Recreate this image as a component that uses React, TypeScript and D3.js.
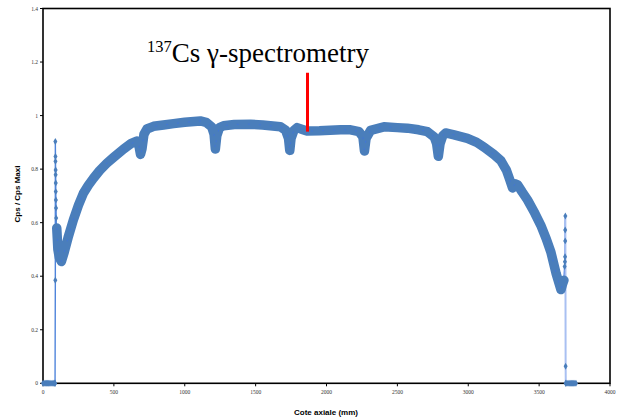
import React from "react";
import * as d3 from "d3";

// ---- data ----
const xTicks = [0, 500, 1000, 1500, 2000, 2500, 3000, 3500, 4000];
const yTicks = [0, 0.2, 0.4, 0.6, 0.8, 1, 1.2, 1.4];
const yTickLabels = ["0", "0.2", "0.4", "0.6", "0.8", "1", "1.2", "1.4"];

// zero readings before the rod
const leftZeroX = [0, 8, 16, 24, 32, 40, 48, 56, 64, 72, 80, 85];
// left end spike (mm, value)
const leftSpikeX = [85, 87, 87, 88, 88, 89, 89, 90, 90, 91, 92, 93, 94, 96];
const leftSpikeY = [0, 0.385, 0.903, 0.847, 0.829, 0.797, 0.779, 0.748, 0.716, 0.685, 0.655, 0.617, 0.585, 0.57];

// main band (axial profile), mm and Cps/Cps max
const bandX = [97, 105, 115, 130, 150, 180, 214, 250, 285, 320, 356, 400, 450, 500, 568, 620, 662, 676, 688, 698, 712, 733,
  780, 850, 921, 1000, 1110, 1150, 1190, 1207, 1216, 1226, 1245, 1274, 1350, 1463, 1550, 1675, 1712, 1732, 1741, 1750,
  1770, 1793, 1830, 1863, 1950, 2100, 2170, 2230, 2257, 2268, 2279, 2311, 2405, 2500, 2570, 2650, 2712, 2760, 2777,
  2789, 2801, 2820, 2841, 2900, 2994, 3060, 3112, 3180, 3230, 3270, 3290, 3312, 3330, 3348, 3380, 3418, 3470, 3512,
  3550, 3583, 3620, 3654, 3665, 3675];
const bandY = [0.58, 0.5, 0.47, 0.455, 0.49, 0.55, 0.61, 0.665, 0.71, 0.74, 0.766, 0.795, 0.822, 0.845, 0.875, 0.895, 0.905, 0.89, 0.855, 0.875, 0.93, 0.95,
  0.96, 0.965, 0.97, 0.975, 0.98, 0.975, 0.958, 0.93, 0.875, 0.925, 0.955, 0.962, 0.967, 0.968, 0.965, 0.958, 0.945, 0.915, 0.87, 0.915,
  0.945, 0.955, 0.948, 0.942, 0.943, 0.947, 0.947, 0.94, 0.92, 0.868, 0.915, 0.945, 0.958, 0.955, 0.953, 0.947, 0.94, 0.92, 0.895,
  0.848, 0.895, 0.925, 0.935, 0.928, 0.915, 0.9, 0.882, 0.855, 0.832, 0.795, 0.765, 0.73, 0.745, 0.742, 0.715, 0.685, 0.635, 0.59,
  0.54, 0.49, 0.41, 0.35, 0.37, 0.385];

// right end spike
const rightSpikeX = [3675, 3680, 3682, 3683, 3684, 3684, 3685, 3687, 3688];
const rightSpikeY = [0.385, 0.436, 0.454, 0.473, 0.532, 0.573, 0.625, 0.064, 0];
const rightZeroX = [3688, 3696, 3704, 3712, 3720, 3728, 3736, 3744, 3752, 3760];

// annotation marker
const markX = 1866;
const markTop = 1.16;
const markBottom = 0.94;

const W = 617;
const H = 419;
const BLUE = "#4a7ebb";

export default function App() {
  const x = d3.scaleLinear().domain([0, 4000]).range([43, 610]);
  const y = d3.scaleLinear().domain([0, 1.4]).range([383.3, 8.5]);
  const line = d3
    .line<[number, number]>()
    .x((d) => x(d[0]))
    .y((d) => y(d[1]));

  const band: [number, number][] = bandX.map((v, i) => [v, bandY[i]]);
  const lSpike: [number, number][] = leftSpikeX.map((v, i) => [v, leftSpikeY[i]]);
  const rSpike: [number, number][] = rightSpikeX.map((v, i) => [v, rightSpikeY[i]]);
  const lZero: [number, number][] = leftZeroX.map((v) => [v, 0]);
  const rZero: [number, number][] = rightZeroX.map((v) => [v, 0]);
  const diamond = d3.symbol().type(d3.symbolDiamond).size(14)();

  const x0 = x.range()[0];
  const x1 = x.range()[1];
  const yTop = y(1.4);
  const yBot = y(0);

  return (
    <svg
      width={W}
      height={H}
      style={{ position: "absolute", left: 0, top: 0, background: "#fff" }}
    >
      <rect width={W} height={H} fill="#fff" />
      {/* plot frame */}
      <rect x={x0} y={yTop} width={x1 - x0} height={yBot - yTop} fill="none" stroke="#000" strokeWidth={1.6} />

      {/* y ticks */}
      {yTicks.map((t, i) => (
        <g key={"y" + i}>
          <line x1={x0 - 3} x2={x0} y1={y(t)} y2={y(t)} stroke="#000" strokeWidth={1} />
          <text
            x={x0 - 5}
            y={y(t) + 2}
            fontSize={5.5}
            fontFamily="Liberation Serif, serif"
            textAnchor="end"
            fill="#333"
          >
            {yTickLabels[i]}
          </text>
        </g>
      ))}
      {/* x ticks */}
      {xTicks.map((t, i) => (
        <g key={"x" + i}>
          <line x1={x(t)} x2={x(t)} y1={yBot} y2={yBot + 3} stroke="#000" strokeWidth={1} />
          <text
            x={x(t)}
            y={yBot + 10.5}
            fontSize={5.5}
            fontFamily="Liberation Serif, serif"
            textAnchor="middle"
            fill="#333"
          >
            {t}
          </text>
        </g>
      ))}

      {/* axis titles */}
      <text
        x={326}
        y={415}
        fontSize={8}
        fontWeight="bold"
        fontFamily="Liberation Sans, Arial, sans-serif"
        textAnchor="middle"
      >
        Cote axiale (mm)
      </text>
      <text
        transform="translate(20,194) rotate(-90)"
        fontSize={8}
        fontWeight="bold"
        fontFamily="Liberation Sans, Arial, sans-serif"
        textAnchor="middle"
      >
        Cps / Cps Maxi
      </text>

      {/* data */}
      <path d={line(lZero) || ""} fill="none" stroke={BLUE} strokeWidth={4} />
      <path d={line(rZero) || ""} fill="none" stroke={BLUE} strokeWidth={4} />
      <path d={line(lSpike) || ""} fill="none" stroke="#4f84db" strokeWidth={1.4} />
      <path d={line(rSpike.slice(0, 7)) || ""} fill="none" stroke="#3f74e0" strokeWidth={1.4} />
      <path d={line(rSpike.slice(6)) || ""} fill="none" stroke="#a9c0f2" strokeWidth={2} />
      {[...lZero, ...lSpike, ...rSpike, ...rZero].map((d, i) => (
        <path key={"m" + i} d={diamond || ""} transform={`translate(${x(d[0])},${y(d[1])})`} fill={BLUE} />
      ))}
      <path
        d={line(band) || ""}
        fill="none"
        stroke={BLUE}
        strokeWidth={9.5}
        strokeLinejoin="round"
        strokeLinecap="round"
      />
      <path
        d={line(band) || ""}
        fill="none"
        stroke="#3d6fe6"
        strokeWidth={1}
        strokeDasharray="2 9"
        opacity={0.6}
      />

      {/* annotation */}
      <line x1={x(markX)} x2={x(markX)} y1={y(markTop)} y2={y(markBottom)} stroke="#ff0000" strokeWidth={3} />
      <text x={147} y={62} fontFamily="Liberation Serif, Times New Roman, serif" fontSize={27} fill="#000">
        <tspan fontSize={16.5} dy={-10}>137</tspan>
        <tspan dy={10}>Cs γ-spectrometry</tspan>
      </text>
    </svg>
  );
}
